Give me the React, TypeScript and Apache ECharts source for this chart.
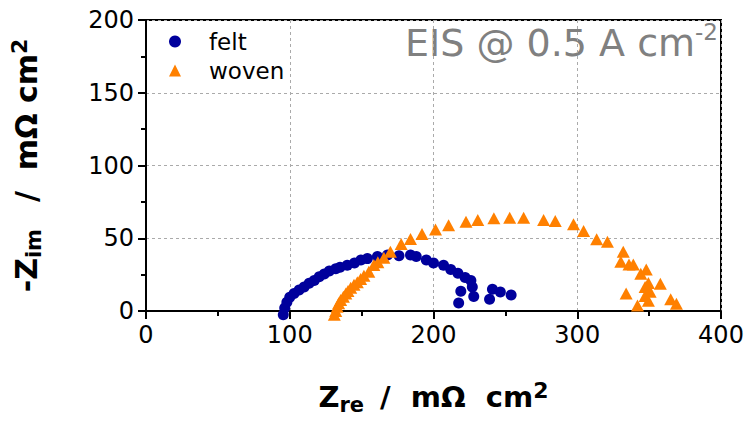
import React, { useEffect, useRef } from "react";
import * as echarts from "echarts";

const feltData: number[][] = [
  [95.5, -2.5], [96.5, 2], [98, 6], [100, 9.5], [103, 12], [106.5, 14.5], [110, 16.5],
  [113.5, 19], [117, 21], [120.5, 23.5], [124, 25.5], [127.5, 27.5], [132, 29], [135, 30],
  [140, 31.5], [145, 33], [149.5, 35], [154, 36], [161, 37.5], [168, 38.5], [176, 38],
  [184, 38.5], [188, 37.5], [195, 35], [200, 33], [207, 31.5], [212, 28.5], [217, 26],
  [222, 23], [226, 21], [227, 16.5], [219, 13.5], [228, 10], [217.5, 5.5], [241, 15],
  [246.5, 13], [239, 8], [254, 11],
];

const wovenData: number[][] = [
  [131, -2.5], [132, 0], [133, 3], [134, 5.3], [135.4, 7.6], [137.3, 9.8], [139, 12],
  [140.5, 13.7], [142.4, 16], [144.7, 18], [147, 19.7], [149.3, 22], [151.6, 24.3],
  [155, 27], [158.5, 31.6], [161.3, 33.5], [165.5, 36.6], [170, 40.8], [177.5, 46],
  [184, 49.4], [192, 53], [201.4, 56], [210.5, 59], [222.6, 61.4], [230.8, 62.5],
  [242, 63.7], [253, 64.1], [262.7, 64.1], [276.6, 62.5], [284.7, 61.9], [297.4, 59.6],
  [304.4, 55], [313.5, 49.3], [321, 47.6], [332, 40.8], [330.3, 33.9], [336, 32],
  [339, 32], [348, 28.5], [344.2, 25.6], [349.5, 19.3], [357.8, 18.8], [347.2, 16.5],
  [350.7, 13.3], [334, 12], [347.2, 10.3], [349.5, 7], [341.9, 3.8], [365, 8], [369, 5],
];

const seriesNames = ["felt", "woven"];
const xRange = [0, 400];
const yRange = [0, 200];
const titleText = "EIS @ 0.5 A cm";

const FONT = "DejaVu Sans";
const S = "\u00A0";
const T = "\u2009";

export default function App() {
  const ref = useRef<HTMLDivElement>(null);
  useEffect(() => {
    document.body.style.margin = "0";
    if (!ref.current) return;
    const chart = echarts.init(ref.current, null, { renderer: "svg" });
    const boldText = { fontFamily: FONT, fontWeight: "bold" as const, color: "#000" };
    const nameRich = {
      b: { ...boldText, fontSize: 29, lineHeight: 36 },
      sub: { ...boldText, fontSize: 21, verticalAlign: "bottom" },
      sup: { ...boldText, fontSize: 22, verticalAlign: "top" },
    };
    const yNameRich = {
      b: { ...boldText, fontSize: 30, lineHeight: 36 },
      sub: { ...boldText, fontSize: 21, verticalAlign: "bottom" },
      sup: { ...boldText, fontSize: 22, verticalAlign: "top" },
    };
    const axisCommon = {
      axisLine: { lineStyle: { color: "#000", width: 2 } },
      axisTick: { length: 8, lineStyle: { color: "#000", width: 2 } },
      minorTick: { show: true, splitNumber: 2, length: 5, lineStyle: { color: "#000", width: 2 } },
      axisLabel: { fontFamily: FONT, fontSize: 24, color: "#000", margin: 12 },
      splitLine: { show: true, lineStyle: { color: "#aaa", type: [3, 3], width: 1 } },
    };
    chart.setOption({
      animation: false,
      backgroundColor: "#fff",
      grid: {
        left: 145, right: 32, top: 20, bottom: 110,
        show: true, borderColor: "#000", borderWidth: 2, backgroundColor: "transparent",
      },
      graphic: [
        {
          type: "text",
          right: 35,
          top: 20,
          style: {
            text: `{t|${titleText}}{s|-2}`,
            rich: {
              t: { fontFamily: FONT, fontSize: 38, fill: "#808080", lineHeight: 46 },
              s: { fontFamily: FONT, fontSize: 23, fill: "#808080", verticalAlign: "top" },
            },
          },
        },
      ],
      legend: {
        left: 164, top: 25, orient: "vertical", itemGap: 6,
        itemWidth: 12, itemHeight: 12,
        textStyle: { fontFamily: FONT, fontSize: 23, color: "#000", padding: [0, 0, 0, 23] },
        data: [
          { name: seriesNames[0], icon: "circle" },
          { name: seriesNames[1], icon: "triangle" },
        ],
      },
      xAxis: {
        type: "value", min: xRange[0], max: xRange[1], interval: 100,
        name: `{b|Z}{sub|re}{b|${S}${T}/${S}${S}mΩ${S}${S}cm}{sup|2}`,
        nameLocation: "middle", nameGap: 68,
        nameTextStyle: { rich: nameRich },
        ...axisCommon,
      },
      yAxis: {
        type: "value", min: yRange[0], max: yRange[1], interval: 50,
        name: `{b|-Z}{sub|im}{b|${S}${S}${T}/${S}${S}mΩ${S}cm}{sup|2}`,
        nameLocation: "middle", nameGap: 102, nameRotate: 90,
        nameTextStyle: { rich: yNameRich },
        ...axisCommon,
      },
      series: [
        {
          name: seriesNames[0], type: "scatter", data: feltData, clip: false,
          symbol: "circle", symbolSize: 11, itemStyle: { color: "#00009c", opacity: 1 },
        },
        {
          name: seriesNames[1], type: "scatter", data: wovenData, clip: false,
          symbol: "triangle", symbolSize: [13, 12], itemStyle: { color: "#ff8000", opacity: 1 },
        },
      ],
    });
    return () => chart.dispose();
  }, []);
  return <div ref={ref} style={{ width: 753, height: 421 }} />;
}
